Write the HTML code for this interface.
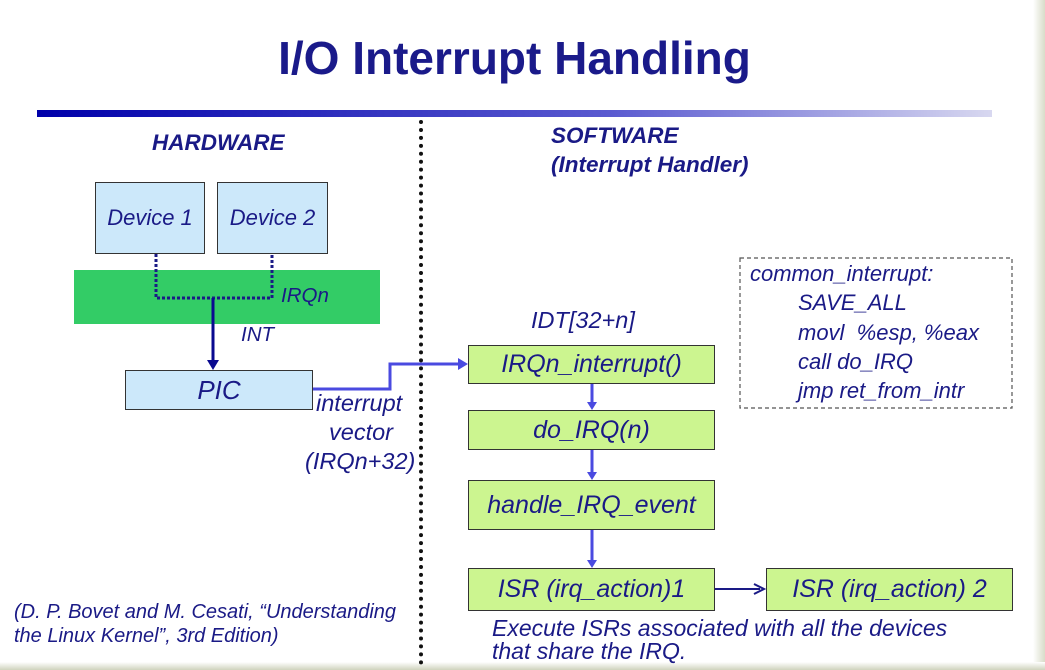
<!DOCTYPE html>
<html><head><style>
body{margin:0;width:1045px;height:670px;background:#fff;position:relative;overflow:hidden;font-family:"Liberation Sans",sans-serif;color:#1a1a86}
.a{position:absolute;white-space:nowrap}
.i{font-style:italic;font-size:22px}
.b{position:absolute;border:1.5px solid #333;box-sizing:border-box;display:flex;align-items:center;justify-content:center;font-style:italic;font-size:25px}
.bl{background:#cce8fa}
.gr{background:#ccf590}
</style></head><body>
<div style="position:absolute;right:0;top:0;width:12px;height:670px;background:linear-gradient(90deg,#fff,#d8dcc8)"></div>
<div style="position:absolute;left:0;bottom:0;width:1045px;height:8px;background:linear-gradient(180deg,#fff,#cfd3bd)"></div>
<div class="a" style="left:0;width:1029px;text-align:center;top:31px;font-size:46px;font-weight:bold;color:#1a1a8a">I/O Interrupt Handling</div>
<div style="position:absolute;left:37px;top:110px;width:955px;height:7px;background:linear-gradient(90deg,#0000aa,#5a5ad0 60%,#d8d8f0)"></div>
<div style="position:absolute;left:419px;top:120px;height:545px;border-left:4px dotted #111"></div>
<div class="a" style="left:152px;top:130px;font-size:22.5px;font-weight:bold;font-style:italic">HARDWARE</div>
<div class="b bl" style="left:95px;top:182px;width:110px;height:72px;font-size:22px">Device 1</div>
<div class="b bl" style="left:217px;top:182px;width:111px;height:72px;font-size:22px">Device 2</div>
<div style="position:absolute;left:74px;top:270px;width:306px;height:54px;background:#33cc66"></div>
<svg style="position:absolute;left:0;top:0" width="1045" height="670">
<path d="M156 254V298H272V254" fill="none" stroke="#1a1a86" stroke-width="3" stroke-dasharray="3 2"/>
<line x1="213" y1="298" x2="213" y2="362" stroke="#0a0a90" stroke-width="3"/>
<polygon points="207,360 219,360 213,370" fill="#0a0a90"/>
<path d="M312 389H390V364H460" fill="none" stroke="#4a4ae0" stroke-width="3"/>
<polygon points="458,358 468,364 458,370" fill="#4a4ae0"/>
<g stroke="#4a4ae0" stroke-width="3"><line x1="592" y1="383" x2="592" y2="404"/><line x1="592" y1="449" x2="592" y2="474"/><line x1="592" y1="529" x2="592" y2="562"/></g>
<g fill="#4a4ae0"><polygon points="587,402 597,402 592,410"/><polygon points="587,472 597,472 592,480"/><polygon points="587,560 597,560 592,568"/></g>
<line x1="714" y1="589" x2="760" y2="589" stroke="#1a1a86" stroke-width="2"/>
<path d="M754 584L764 589L754 594" fill="none" stroke="#1a1a86" stroke-width="2"/>
<rect x="740" y="258" width="272" height="150" fill="none" stroke="#555" stroke-width="1.2" stroke-dasharray="4 3"/>
</svg>
<div class="a i" style="left:281px;top:284px;font-size:20.5px">IRQn</div>
<div class="a i" style="left:241px;top:323px;font-size:20.5px">INT</div>
<div class="b bl" style="left:125px;top:370px;width:188px;height:40px;font-size:26px">PIC</div>
<div class="a i" style="left:316px;top:390px;font-size:23.5px">interrupt</div>
<div class="a i" style="left:329px;top:419px;font-size:23.5px">vector</div>
<div class="a i" style="left:305px;top:448px;font-size:23.5px">(IRQn+32)</div>
<div class="a" style="left:551px;top:123px;font-size:22.5px;font-weight:bold;font-style:italic">SOFTWARE</div>
<div class="a" style="left:551px;top:152px;font-size:22.5px;font-weight:bold;font-style:italic">(Interrupt Handler)</div>
<div class="a i" style="left:531px;top:307px;font-size:23.5px">IDT[32+n]</div>
<div class="b gr" style="left:468px;top:345px;width:247px;height:39px">IRQn_interrupt()</div>
<div class="b gr" style="left:468px;top:410px;width:247px;height:40px">do_IRQ(n)</div>
<div class="b gr" style="left:468px;top:480px;width:247px;height:50px">handle_IRQ_event</div>
<div class="b gr" style="left:468px;top:568px;width:247px;height:43px">ISR (irq_action)1</div>
<div class="b gr" style="left:766px;top:568px;width:247px;height:43px">ISR (irq_action) 2</div>
<div class="a i" style="left:750px;top:261px">common_interrupt:</div>
<div class="a i" style="left:798px;top:290px">SAVE_ALL</div>
<div class="a i" style="left:798px;top:320px">movl&nbsp; %esp, %eax</div>
<div class="a i" style="left:798px;top:349px">call do_IRQ</div>
<div class="a i" style="left:798px;top:378px">jmp ret_from_intr</div>
<div class="a i" style="left:14px;top:601px;font-size:20px">(D. P. Bovet and M. Cesati, “Understanding</div>
<div class="a i" style="left:14px;top:625px;font-size:20px">the Linux Kernel”, 3rd Edition)</div>
<div class="a i" style="left:492px;top:615px;font-size:23px">Execute ISRs associated with all the devices</div>
<div class="a i" style="left:492px;top:638px;font-size:23px">that share the IRQ.</div>
</body></html>
